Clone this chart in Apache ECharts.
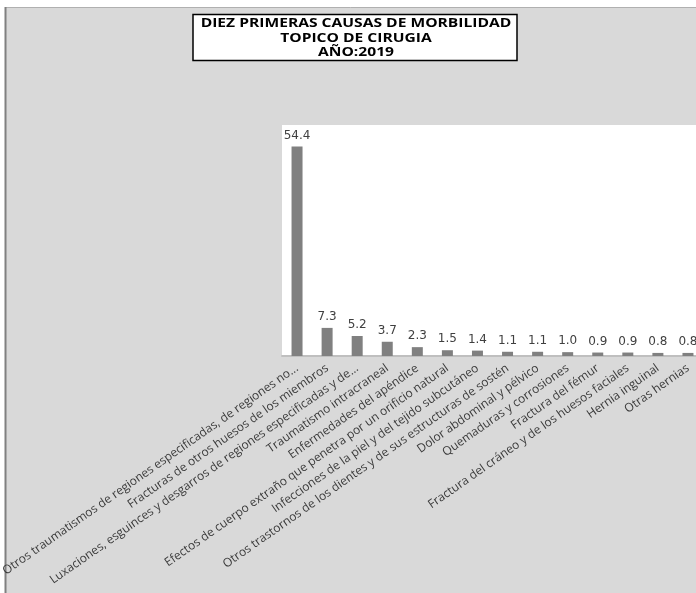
<!DOCTYPE html>
<html><head><meta charset="utf-8">
<script src="https://cdn.jsdelivr.net/npm/echarts@6/dist/echarts.min.js"></script>
<style>html,body{margin:0;padding:0;background:#fff}#c{width:696px;height:593px}</style>
</head><body><div id="c"></div>
<script>
const titleLines = ['DIEZ PRIMERAS CAUSAS DE MORBILIDAD', 'TOPICO DE CIRUGIA', 'AÑO:2019'];
const categories = [
  'Otros traumatismos de regiones especificadas, de regiones no...',
  'Fracturas de otros huesos de los miembros',
  'Luxaciones, esguinces y desgarros de regiones especificadas y de...',
  'Traumatismo intracraneal',
  'Enfermedades del apéndice',
  'Efectos de cuerpo extraño que penetra por un orificio natural',
  'Infecciones de la piel y del tejido subcutáneo',
  'Otros trastornos de los dientes y de sus estructuras de sostén',
  'Dolor abdominal y pélvico',
  'Quemaduras y corrosiones',
  'Fractura del fémur',
  'Fractura del cráneo y de los huesos faciales',
  'Hernia inguinal',
  'Otras hernias'
];
const values = [54.4, 7.3, 5.2, 3.7, 2.3, 1.5, 1.4, 1.1, 1.1, 1.0, 0.9, 0.9, 0.8, 0.8];

const chart = echarts.init(document.getElementById('c'));
chart.setOption({
  backgroundColor: '#d9d9d9',
  animation: false,
  graphic: [
    { type: 'rect', shape: { x: 0, y: 0, width: 696, height: 7 }, style: { fill: '#ffffff' }, silent: true },
    { type: 'rect', shape: { x: 0, y: 0, width: 5, height: 593 }, style: { fill: '#ffffff' }, silent: true },
    { type: 'line', shape: { x1: 5, y1: 7.5, x2: 696, y2: 7.5 }, style: { stroke: '#b0b0b0', lineWidth: 1 }, silent: true },
    { type: 'line', shape: { x1: 5.5, y1: 7, x2: 5.5, y2: 593 }, style: { stroke: '#808080', lineWidth: 2 }, silent: true },
    { type: 'rect', shape: { x: 193, y: 14.5, width: 324, height: 46 }, style: { fill: '#ffffff', stroke: '#000000', lineWidth: 1.5 }, silent: true },
    { type: 'text', x: 356, y: 38.5, scaleX: 1.3, style: {
        text: titleLines.join('\n'), fill: '#000', font: 'bold 12px "Open Sans", sans-serif',
        align: 'center', verticalAlign: 'middle', lineHeight: 14.5 }, silent: true }
  ],
  grid: { left: 282, top: 125, width: 421, height: 231, show: true, backgroundColor: '#ffffff', borderWidth: 0,
    containLabel: false, outerBoundsMode: 'none' },
  xAxis: {
    type: 'category', data: categories,
    axisLine: { lineStyle: { color: '#bfbfbf', width: 2 } },
    axisTick: { show: false },
    axisLabel: { interval: 0, rotate: 35, margin: 11, color: '#3a3a3a', fontFamily: '"Open Sans", sans-serif', fontSize: 12,
      hideOverlap: false }
  },
  yAxis: { type: 'value', min: 0, max: 60, show: false, splitLine: { show: false } },
  series: [{
    type: 'bar', data: values, barWidth: 11,
    itemStyle: { color: '#808080' },
    label: { show: true, position: 'top', distance: 5, color: '#404040', fontFamily: '"DejaVu Sans", sans-serif', fontSize: 12,
      formatter: p => p.value.toFixed(1) }
  }]
});
</script></body></html>
